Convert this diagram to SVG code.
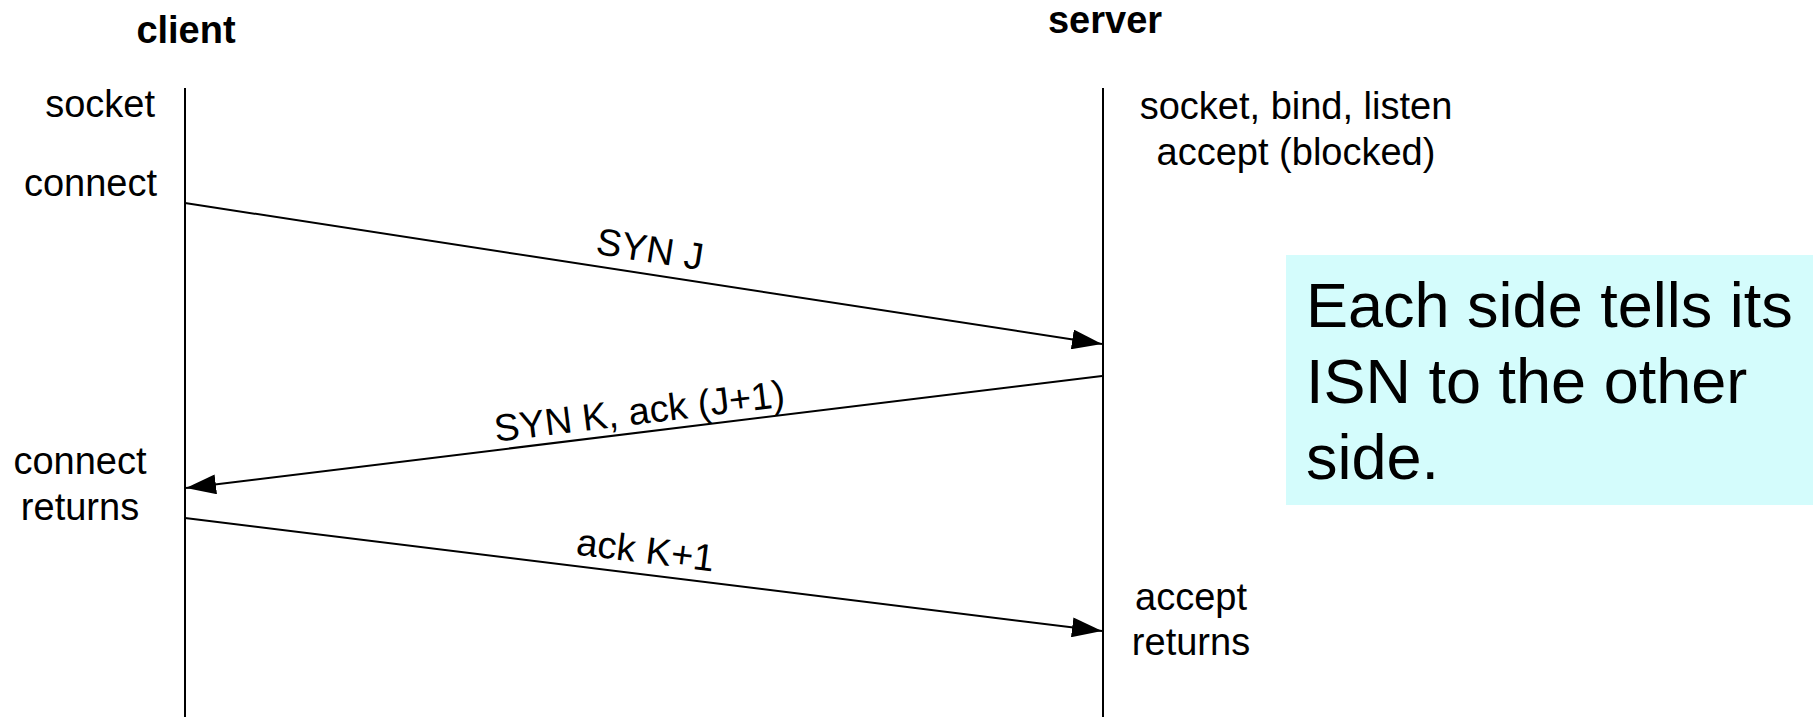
<svg xmlns="http://www.w3.org/2000/svg" width="1816" height="717" viewBox="0 0 1816 717">
<style>
text{font-family:"Liberation Sans",Arial,Helvetica,sans-serif;fill:#000}
.hdr{font-size:38px;font-weight:bold;text-anchor:middle}
.lbl{font-size:38px}
.mid{text-anchor:middle}
.end{text-anchor:end}
.msg{font-size:38px;text-anchor:middle}
.note{font-size:63px}
.life{stroke:#000;stroke-width:2;fill:none}
.arrow{stroke:#000;stroke-width:2;fill:none;marker-end:url(#ah)}
</style>
<defs>
<marker id="ah" markerUnits="userSpaceOnUse" markerWidth="30" markerHeight="20" refX="30" refY="10" orient="auto" viewBox="0 0 30 20">
<path d="M0,0 L30,10 L0,20 z" fill="#000"/>
</marker>
</defs>
<rect width="1816" height="717" fill="#fff"/>
<g id="client">
<text class="hdr" x="186" y="43">client</text>
<line class="life" x1="185" y1="88" x2="185" y2="717"/>
<text class="lbl end" x="155" y="117">socket</text>
<text class="lbl end" x="157" y="196">connect</text>
<text class="lbl mid" x="80" y="474">connect</text>
<text class="lbl mid" x="80" y="520">returns</text>
</g>
<g id="server">
<text class="hdr" x="1105" y="33">server</text>
<line class="life" x1="1103" y1="88" x2="1103" y2="717"/>
<text class="lbl mid" x="1296" y="119">socket, bind, listen</text>
<text class="lbl mid" x="1296" y="165">accept (blocked)</text>
<text class="lbl mid" x="1191" y="610">accept</text>
<text class="lbl mid" x="1191" y="655">returns</text>
</g>
<g id="note">
<rect x="1286" y="255" width="527" height="250" fill="#d4fcfc"/>
<text class="note" x="1306" y="327">Each side tells its</text>
<text class="note" x="1306" y="403">ISN to the other</text>
<text class="note" x="1306" y="479">side.</text>
</g>
<g id="connectors">
<line class="arrow" x1="185" y1="203" x2="1102" y2="344"/>
<text class="msg" x="648" y="262" transform="rotate(8.74 648 262)">SYN J</text>
<line class="arrow" x1="1102" y1="376" x2="186" y2="488"/>
<text class="msg" x="641" y="424" transform="rotate(-6.96 641 424)">SYN K, ack (J+1)</text>
<line class="arrow" x1="185" y1="518" x2="1102" y2="631"/>
<text class="msg" x="644" y="563" transform="rotate(7.03 644 563)">ack K+1</text>
</g>
</svg>
